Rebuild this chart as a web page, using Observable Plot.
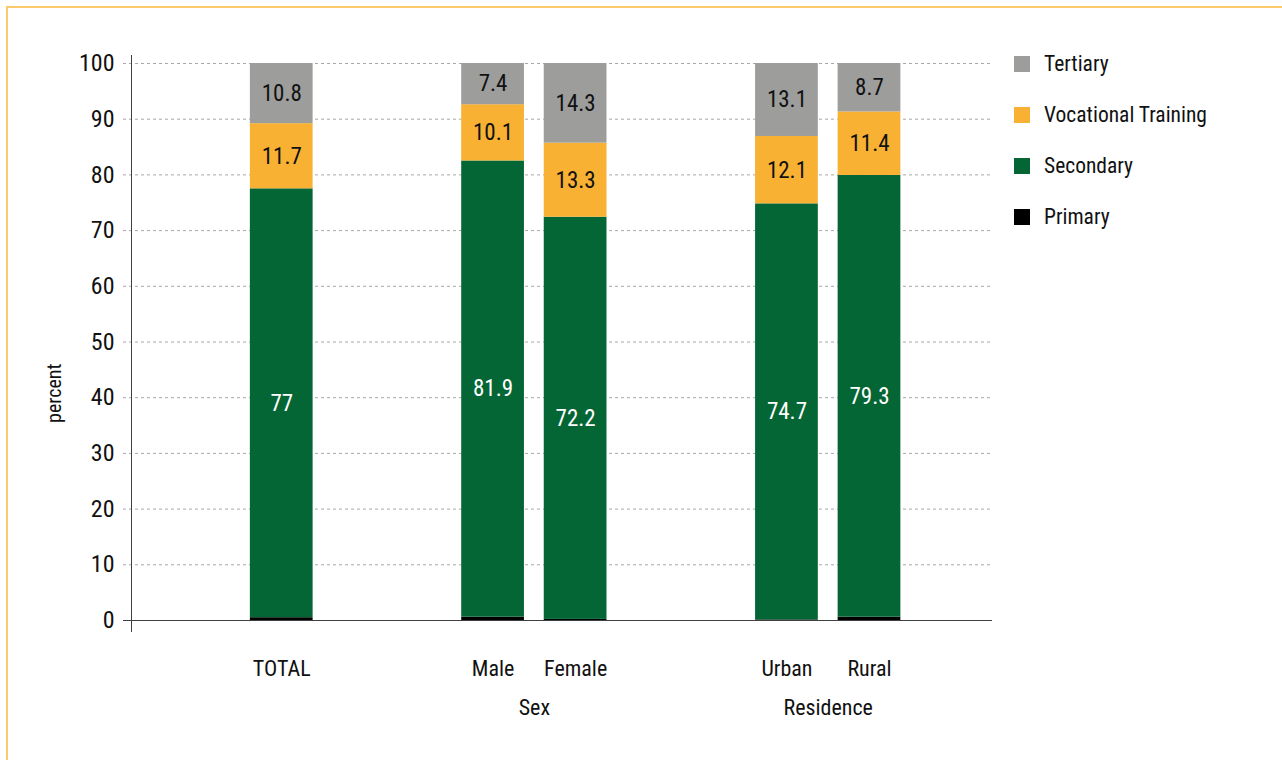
<!DOCTYPE html>
<html><head><meta charset="utf-8">
<script src="https://cdn.jsdelivr.net/npm/d3@7"></script>
<script src="https://cdn.jsdelivr.net/npm/@observablehq/plot@0.6"></script>
<style>
html,body{margin:0;padding:0;background:#fff;overflow:hidden;width:1282px;height:760px}
#frame{position:absolute;left:6px;top:6px;width:1300px;height:800px;border-top:2px solid #fcc96c;border-left:2px solid #fcc96c;}
#chart{position:absolute;left:0;top:0}
#legend{position:absolute;left:1014px;top:38px;font-family:Roboto,sans-serif;font-stretch:condensed;font-size:21.5px;color:#111}
.row{height:51px;display:flex;align-items:center}
.sw{width:16px;height:16px;margin-right:14px;flex:none}
</style></head>
<body>
<div id="frame"></div>
<div id="chart"></div>
<div id="legend"></div>
<script>
// ---- data ----
const categories = ["TOTAL", "Male", "Female", "Urban", "Rural"];
const groups = ["", "Sex", "Sex", "Residence", "Residence"];
const levels = ["Primary", "Secondary", "Vocational Training", "Tertiary"];
const primary = [0.5, 0.6, 0.2, 0.1, 0.6];
const secondary = [77, 81.9, 72.2, 74.7, 79.3];
const vocational = [11.7, 10.1, 13.3, 12.1, 11.4];
const tertiary = [10.8, 7.4, 14.3, 13.1, 8.7];
const yTicks = [0, 10, 20, 30, 40, 50, 60, 70, 80, 90, 100];
const colors = ["#000000", "#046634", "#f8b133", "#9d9d9c"];
const yLabel = "percent";

// ---- layout ----
const FONT = "Roboto, sans-serif";
const groupGap = 1.56;
const groupOrder = Array.from(new Set(groups));
const slots = categories.map((c, i) => i + groupOrder.indexOf(groups[i]) * groupGap);
const xDomain = [-1.82, 8.61];
const half = 0.38;

const series = [primary, secondary, vocational, tertiary];
const rows = [];
categories.forEach((c, i) => {
  levels.forEach((lv, j) => {
    rows.push({category: c, group: groups[i], slot: slots[i], level: lv, value: series[j][i]});
  });
});

const groupLabels = groupOrder.filter(g => g !== "").map(g => {
  const s = slots.filter((v, i) => groups[i] === g);
  return {group: g, slot: d3.mean(s)};
});

const plot = Plot.plot({
  width: 1282,
  height: 760,
  marginLeft: 131,
  marginRight: 290,
  marginTop: 63,
  marginBottom: 140,
  style: {fontFamily: FONT, fontStretch: "condensed", fontSize: "22px", color: "#111", background: "transparent"},
  x: {type: "linear", domain: xDomain, axis: null},
  y: {domain: [0, 100], axis: null},
  color: {domain: levels, range: colors},
  marks: [
    Plot.ruleY(yTicks.filter(t => t > 0), {stroke: "#a8a8a8", strokeDasharray: "3,3", insetLeft: -8}),
    Plot.rectY(rows, {x1: d => d.slot - half, x2: d => d.slot + half, y: "value", fill: "level"}),
    Plot.text(rows, Plot.stackY({
      x: "slot", y: "value",
      text: d => d.level === "Primary" ? null : String(d.value),
      fill: d => d.level === "Secondary" ? "#ffffff" : "#111111",
      fontSize: 23
    })),
    Plot.ruleY([0], {stroke: "#404040", insetLeft: -8}),
    Plot.ruleX([xDomain[0]], {stroke: "#404040", insetTop: -8, insetBottom: -12}),
    Plot.axisY({ticks: yTicks, tickSize: 0, tickPadding: 17, fontSize: 24, label: null, tickFormat: d => String(d)}),
    Plot.text(categories, {x: (d, i) => slots[i], frameAnchor: "bottom", dy: 55, fontSize: 22}),
    Plot.text(groupLabels, {x: "slot", text: "group", frameAnchor: "bottom", dy: 94, fontSize: 22}),
    Plot.text([yLabel], {frameAnchor: "left", y: () => 40.8, dx: -77, rotate: -90, textAnchor: "middle", fontSize: 20})
  ]
});
document.getElementById("chart").appendChild(plot);

// legend
const legend = d3.select("#legend");
levels.slice().reverse().forEach(lv => {
  const r = legend.append("div").attr("class", "row");
  r.append("div").attr("class", "sw").style("background", colors[levels.indexOf(lv)]);
  r.append("span").text(lv);
});
</script>
</body></html>
